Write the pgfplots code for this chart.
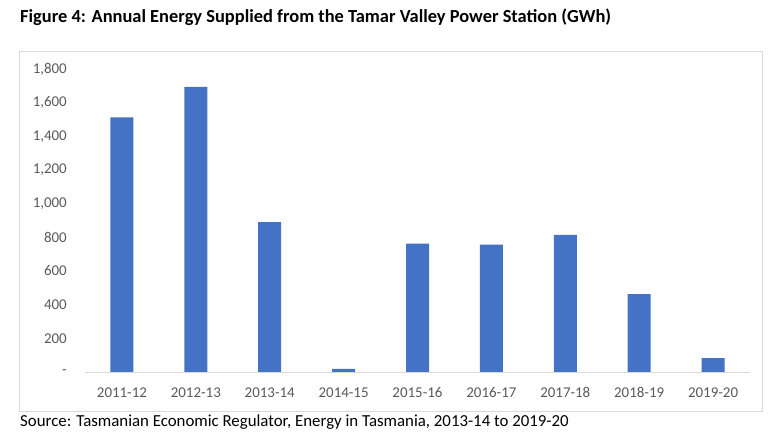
\documentclass[border=0pt]{standalone}
\usepackage{pgfplots}
\pgfplotsset{compat=1.18}
\usepackage{fontspec}
\setmainfont{Carlito}
\definecolor{barblue}{HTML}{4472C4}
\definecolor{ticktext}{HTML}{595959}
\definecolor{framegray}{HTML}{D9D9D9}
\begin{document}
\begin{tikzpicture}[x=1bp,y=1bp]
\path[use as bounding box] (0,0) rectangle (768,447);
\draw[framegray, line width=0.8bp] (19,36) rectangle (762,396);
\node[anchor=base west, inner sep=0pt, font=\bfseries\fontsize{18.5}{22}\selectfont] at (20,424.5) {Figure 4: Annual Energy Supplied from the Tamar Valley Power Station (GWh)};
\node[anchor=base west, inner sep=0pt, font=\fontsize{16.9}{20}\selectfont] at (20,20) {Source: Tasmanian Economic Regulator, Energy in Tasmania, 2013-14 to 2019-20};
\begin{axis}[
  at={(85bp,75bp)}, anchor=south west,
  scale only axis,
  width=665bp, height=303bp,
  xmin=-0.5, xmax=8.5,
  ymin=0, ymax=1800,
  axis y line*=left,
  y axis line style={draw=none},
  axis x line*=bottom,
  x axis line style={framegray, line width=0.8bp},
  xtick=data,
  xticklabels={2011-12,2012-13,2013-14,2014-15,2015-16,2016-17,2017-18,2018-19,2019-20},
  ytick={0,200,...,1800},
  yticklabels={-,200,400,600,800,{1,000},{1,200},{1,400},{1,600},{1,800}},
  major tick length=0pt,
  /pgf/number format/assume math mode=true,
  ticklabel style={text=ticktext, font=\fontsize{15}{17}\selectfont},
  xticklabel style={yshift=-12bp},
  yticklabel style={anchor=east, inner sep=0pt, xshift=-18bp},
  ybar, bar width=23bp,
  enlarge x limits=false,
  clip=false,
]
\addplot[fill=barblue, draw=none] coordinates {
(0,1512) (1,1694) (2,891) (3,18) (4,762) (5,757) (6,815) (7,462) (8,83)
};
\end{axis}
\end{tikzpicture}
\end{document}
